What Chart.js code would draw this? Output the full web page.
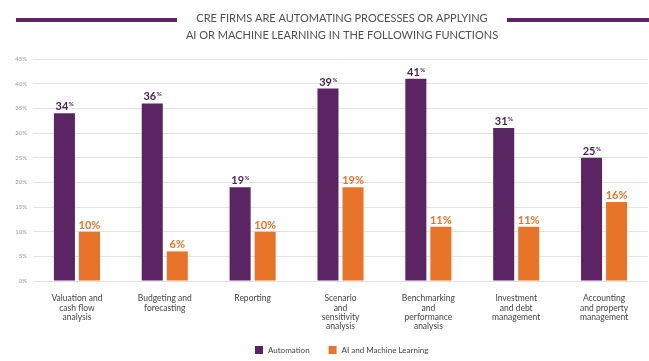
<!DOCTYPE html>
<html>
<head>
<meta charset="utf-8">
<script src="https://cdn.jsdelivr.net/npm/chart.js@4.4.1/dist/chart.umd.min.js"></script>
<style>
  html, body { margin: 0; padding: 0; background: #ffffff; }
  #wrap { width: 649px; height: 361px; position: relative; }
</style>
</head>
<body>
<div id="wrap"><canvas id="c" width="649" height="361"></canvas></div>
<script>
const categories = [
  ["Valuation and", "cash flow", "analysis"],
  ["Budgeting and", "forecasting"],
  ["Reporting"],
  ["Scenario", "and", "sensitivity", "analysis"],
  ["Benchmarking", "and", "performance", "analysis"],
  ["Investment", "and debt", "management"],
  ["Accounting", "and property", "management"]
];
const automation = [34, 36, 19, 39, 41, 31, 25];
const aiMachineLearning = [10, 6, 10, 19, 11, 11, 16];
const seriesNames = ["Automation", "AI and Machine Learning"];
const titleLines = ["CRE FIRMS ARE AUTOMATING PROCESSES OR APPLYING", "AI OR MACHINE LEARNING IN THE FOLLOWING FUNCTIONS"];
const yTicks = [0, 5, 10, 15, 20, 25, 30, 35, 40, 45];

const PURPLE = '#5b2462';
const ORANGE = '#e8742a';
const FONT = 'Lato, "Open Sans", sans-serif';

const decorPlugin = {
  id: 'decor',
  afterDraw(chart) {
    const ctx = chart.ctx;
    ctx.save();
    // Title
    ctx.fillStyle = '#505050';
    ctx.font = '11px ' + FONT;
    ctx.textAlign = 'center';
    ctx.textBaseline = 'middle';
    ctx.fillText(titleLines[0], 342, 18);
    ctx.fillText(titleLines[1], 342, 35);
    // side rules
    ctx.fillStyle = PURPLE;
    ctx.fillRect(16, 18, 161, 4);
    ctx.fillRect(507, 18, 142, 4);

    // Data labels
    chart.data.datasets.forEach((ds, di) => {
      const meta = chart.getDatasetMeta(di);
      meta.data.forEach((bar, i) => {
        const v = ds.data[i];
        const num = String(v);
        const baseY = bar.y - 3;
        ctx.textAlign = 'left';
        ctx.textBaseline = 'alphabetic';
        if (di === 0) {
          ctx.font = 'bold 11px ' + FONT;
          const w1 = ctx.measureText(num).width;
          ctx.font = 'bold 6px ' + FONT;
          const w2 = ctx.measureText('%').width;
          const x0 = bar.x - (w1 + w2) / 2;
          ctx.fillStyle = '#4b1f53';
          ctx.font = 'bold 11px ' + FONT;
          ctx.fillText(num, x0, baseY);
          ctx.font = 'bold 6px ' + FONT;
          ctx.fillText('%', x0 + w1 + 0.5, baseY - 4);
        } else {
          ctx.font = 'bold 11px ' + FONT;
          ctx.fillStyle = ORANGE;
          ctx.textAlign = 'center';
          ctx.fillText(num + '%', bar.x, baseY);
        }
      });
    });

    // Legend
    ctx.font = '8px ' + FONT;
    ctx.textBaseline = 'middle';
    ctx.textAlign = 'left';
    const ly = 350;
    let lx = 255;
    chart.data.datasets.forEach((ds, di) => {
      ctx.fillStyle = ds.backgroundColor;
      ctx.fillRect(lx, ly - 4, 8, 8);
      ctx.fillStyle = '#444444';
      ctx.fillText(ds.label, lx + 13, ly + 0.5);
      lx += 13 + ctx.measureText(ds.label).width + 19;
    });
    ctx.restore();
  }
};

new Chart(document.getElementById('c'), {
  type: 'bar',
  data: {
    labels: categories,
    datasets: [
      { label: seriesNames[0], data: automation, backgroundColor: PURPLE,
        categoryPercentage: 0.57, barPercentage: 0.84 },
      { label: seriesNames[1], data: aiMachineLearning, backgroundColor: ORANGE,
        categoryPercentage: 0.57, barPercentage: 0.84 }
    ]
  },
  options: {
    responsive: false,
    animation: false,
    devicePixelRatio: 1,
    layout: { padding: { top: 59, right: 1, left: 0, bottom: 0 } },
    plugins: {
      legend: { display: false },
      title: { display: false },
      tooltip: { enabled: false }
    },
    scales: {
      x: {
        grid: { display: false },
        border: { display: false },
        ticks: {
          color: '#444444',
          font: { family: FONT, size: 8.5, lineHeight: 1.1 },
          padding: 5,
          maxRotation: 0,
          autoSkip: false
        },
        afterFit(scale) { scale.height = 80; }
      },
      y: {
        min: 0, max: 45,
        afterBuildTicks(scale) { scale.ticks = yTicks.map(v => ({ value: v })); },
        grid: { color: '#e2e2e2', lineWidth: 1, drawTicks: false },
        border: { display: false },
        ticks: {
          color: '#9a9a9a',
          font: { family: FONT, size: 6 },
          padding: 6,
          callback: v => v + '%'
        },
        afterFit(scale) { scale.width = 33; }
      }
    }
  },
  plugins: [decorPlugin]
});
</script>
</body>
</html>
